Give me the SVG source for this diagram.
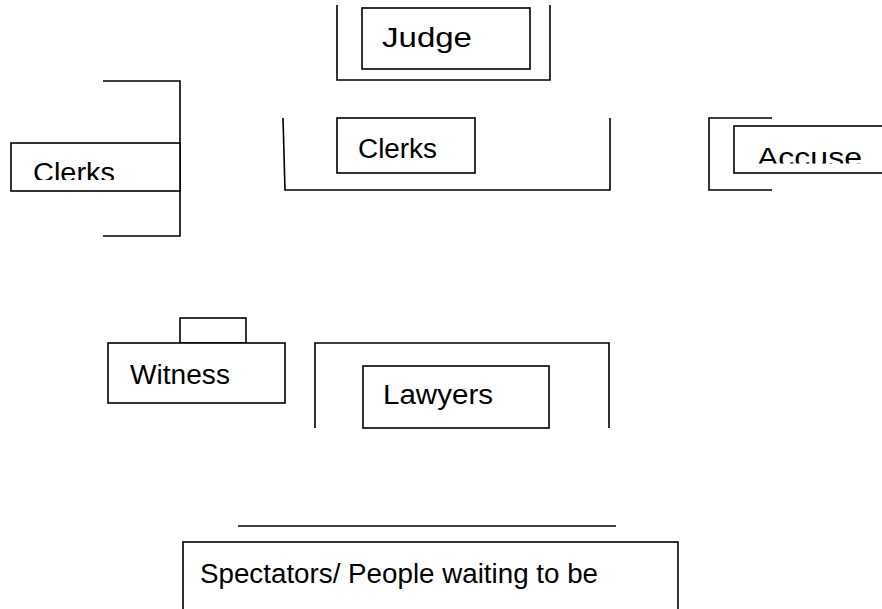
<svg xmlns="http://www.w3.org/2000/svg" width="882" height="609" viewBox="0 0 882 609">
<style>
.ln{fill:none;stroke:#000;stroke-width:1.6;}
.bx{fill:#fff;stroke:#000;stroke-width:1.6;}
.tx{font-family:"Liberation Sans",Arial,sans-serif;font-size:27px;fill:#000;}
</style>
<defs>
<clipPath id="clipClerksL"><rect x="0" y="140" width="182" height="40"/></clipPath>
<clipPath id="clipAccuse"><rect x="730" y="120" width="152" height="43.5"/></clipPath>
</defs>
<rect x="0" y="0" width="882" height="609" fill="#fff"/>
<g id="judge">
<polyline class="ln" points="337,5 337,80 550,80 550,5"/>
<rect class="bx" x="362" y="8" width="168" height="61"/>
<text class="tx" x="382" y="47" textLength="90" lengthAdjust="spacingAndGlyphs">Judge</text>
</g>
<g id="clerks-left">
<polyline class="ln" points="103,81 180,81 180,236 103,236"/>
<rect class="bx" x="11" y="143" width="169" height="48"/>
<text class="tx" x="33" y="182" textLength="82" lengthAdjust="spacingAndGlyphs" clip-path="url(#clipClerksL)">Clerks</text>
</g>
<g id="clerks-middle">
<polyline class="ln" points="283,118 285,190 610,190 610,118"/>
<rect class="bx" x="337" y="118" width="138" height="55"/>
<text class="tx" x="358" y="158" textLength="79" lengthAdjust="spacingAndGlyphs">Clerks</text>
</g>
<g id="accused">
<polyline class="ln" points="772,118 709,118 709,190 772,190"/>
<rect class="bx" x="734" y="126" width="152" height="47"/>
<text class="tx" x="757" y="167" textLength="105" lengthAdjust="spacingAndGlyphs" clip-path="url(#clipAccuse)">Accuse</text>
</g>
<g id="witness">
<rect class="bx" x="180" y="318" width="66" height="25"/>
<rect class="bx" x="108" y="343" width="177" height="60"/>
<text class="tx" x="130" y="384" textLength="100" lengthAdjust="spacingAndGlyphs">Witness</text>
</g>
<g id="lawyers">
<polyline class="ln" points="315,428 315,343 609,343 609,428"/>
<rect class="bx" x="363" y="366" width="186" height="62"/>
<text class="tx" x="383" y="404" textLength="110" lengthAdjust="spacingAndGlyphs">Lawyers</text>
</g>
<g id="spectators">
<line class="ln" x1="238" y1="526" x2="616" y2="526"/>
<rect class="bx" x="183" y="542" width="495" height="80"/>
<text class="tx" x="200" y="583" textLength="398" lengthAdjust="spacingAndGlyphs">Spectators/ People waiting to be</text>
</g>
<g id="connectors"></g>
</svg>
